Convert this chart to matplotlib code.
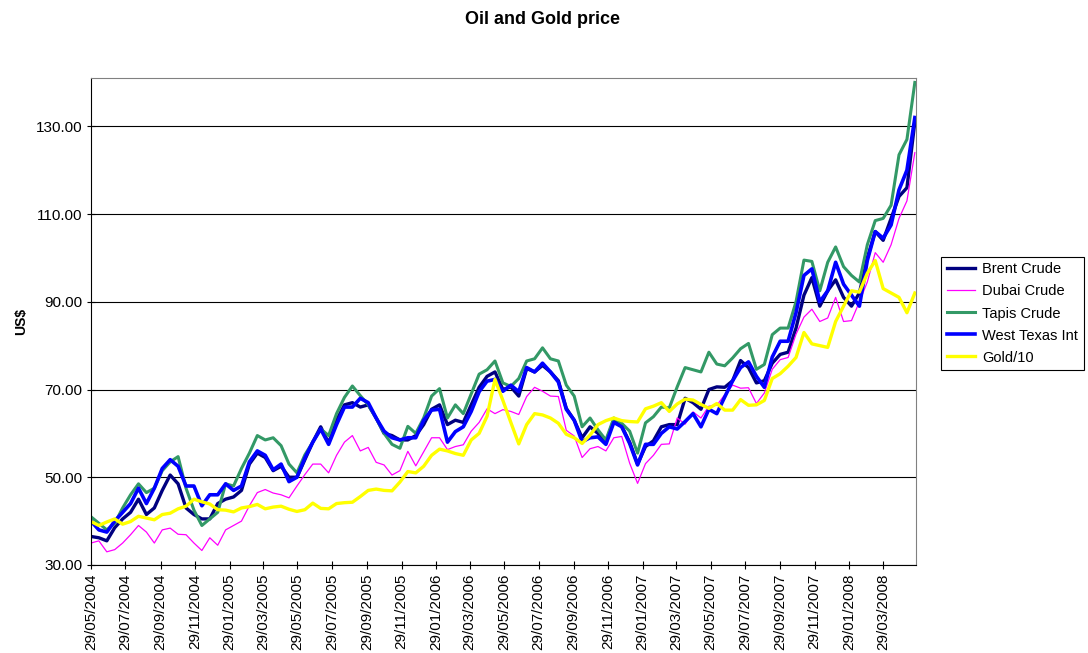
import pandas as pd
import matplotlib.pyplot as plt
import matplotlib.dates as mdates

# === DATA (fortnightly readings, US$) ===
dates = pd.date_range("2004-05-29", periods=105, freq="14D")

brent = [36.5, 36.2, 35.5, 38.5, 40.5, 42, 45, 41.5, 43, 47, 50.5, 48.5, 43, 41.5, 40.5,
         40.5, 44, 45, 45.5, 47, 53, 55.5, 54.5, 51.5, 52.5, 50, 50, 54, 58, 61.5,
         57.8, 63, 66.5, 67, 66, 66.5, 63.5, 60, 59.5, 58.5, 58.5, 59.5, 62, 65.5, 66.5,
         62, 63, 62.5, 66.5, 70.5, 73, 74, 70, 70.6, 68.5, 74.8, 74, 75.5, 74, 72,
         65.7, 63, 59, 61.5, 60, 58, 63, 61.6, 58, 53, 57, 58.3, 61.5, 62, 62,
         68, 67, 65.5, 70, 70.6, 70.5, 72, 76.6, 75, 71.5, 72, 76, 78, 78.5, 84,
         91.5, 95.5, 89, 92.5, 95, 91, 89, 92, 100, 106, 104, 109, 114, 116, 131]

dubai = [35, 35.5, 33, 33.5, 35, 36.9, 39, 37.5, 35, 38, 38.4, 37, 36.9, 35, 33.3,
         36.2, 34.5, 38, 39, 40, 43.5, 46.5, 47.2, 46.4, 46, 45.3, 48, 50.6, 53, 53,
         51, 55, 58, 59.5, 56, 56.8, 53.4, 52.8, 50.5, 51.5, 55.9, 52.6, 55.8, 59, 59,
         56.3, 57, 57.4, 60.5, 62.5, 65.6, 64.5, 65.4, 65, 64.3, 68.4, 70.5, 69.6, 68.5, 68.4,
         60.7, 59.4, 54.5, 56.5, 57, 56, 59, 59.3, 53.2, 48.6, 53.1, 55, 57.5, 57.6, 63.5,
         62.1, 64.9, 63.5, 66.2, 66.4, 68.8, 71, 70.3, 70.4, 66.8, 69.2, 74.6, 76.8, 77.3, 82.6,
         86.5, 88.3, 85.5, 86.3, 91, 85.5, 85.7, 90, 94.5, 101.2, 99, 103, 109, 113, 124]

tapis = [41, 39.5, 38, 39.5, 43, 46, 48.5, 46.5, 47.5, 51.5, 53.5, 54.7, 47.5, 42.5, 39,
         40.5, 42, 48.5, 48, 52, 55.5, 59.5, 58.5, 59, 57.2, 53, 51, 55.1, 58, 61,
         59.5, 64.5, 68.2, 70.8, 68.6, 66.5, 63.5, 60, 57.5, 56.6, 61.6, 60, 63.5, 68.5, 70.2,
         63.5, 66.5, 64.5, 69, 73.5, 74.5, 76.5, 71.5, 70.7, 72.5, 76.5, 77, 79.5, 77, 76.5,
         71, 68.5, 61.5, 63.5, 60.8, 58.5, 63.5, 62.3, 60.5, 55.5, 62.4, 63.8, 66, 65.8, 70.6,
         75, 74.5, 74, 78.5, 75.8, 75.4, 77.2, 79.3, 80.5, 74.6, 75.7, 82.5, 84, 84, 90,
         99.5, 99.2, 92.5, 99, 102.5, 98, 96, 94.5, 103, 108.5, 109, 112, 123.5, 127, 140]

wti = [40, 38, 37.5, 40, 42, 44, 47.5, 44, 47.5, 52, 54, 52.5, 48, 48, 43.5,
       46, 46, 48.5, 47, 48, 53.5, 56, 55, 51.7, 53, 49, 50, 54.4, 58, 61,
       57.5, 62, 66, 66, 68, 67, 63.5, 60.5, 59, 58.5, 59, 59, 63, 65.3, 65.5,
       58, 60.4, 61.5, 65, 69.5, 71.9, 72.3, 69.6, 71, 69.5, 75, 74, 76, 74, 71.7,
       65.5, 63, 58.1, 59, 59.2, 57.5, 62.5, 61.5, 57.7, 52.8, 57.5, 57.5, 60, 61.5, 61,
       62.7, 64.5, 61.5, 65.5, 64.5, 68.3, 72, 75, 76.3, 73, 70.5, 77.4, 81, 81, 87.5,
       96, 97.5, 90, 92.5, 99, 94, 91.5, 89, 99.4, 106, 104.5, 107.5, 115.5, 120, 132]

gold10 = [39.9, 39, 39.8, 40.5, 39.3, 39.9, 41.1, 40.7, 40.3, 41.5, 41.8, 42.8, 43.4, 45, 44.4,
          43.9, 42.6, 42.5, 42.1, 43, 43.3, 43.8, 42.8, 43.2, 43.4, 42.7, 42.2, 42.6, 44.1, 42.9,
          42.8, 44, 44.2, 44.3, 45.6, 47, 47.3, 47, 46.9, 48.9, 51.3, 51, 52.5, 55, 56.4,
          56, 55.4, 55, 58.5, 60, 63.9, 72.3, 67.5, 62.5, 57.6, 62, 64.5, 64.2, 63.5, 62.3,
          59.8, 59, 57.7, 59.6, 62, 62.9, 63.5, 62.9, 62.7, 62.6, 65.6, 66.2, 67, 65, 66.7,
          67.8, 67.6, 66.6, 65.7, 66.8, 65.3, 65.3, 67.7, 66.4, 66.5, 67.5, 72.5, 73.6, 75.3, 77.3,
          83, 80.4, 80, 79.6, 85.5, 89, 92.5, 92.2, 96.5, 99.4, 93, 92, 91, 87.5, 92]

tick_dates = pd.date_range("2004-05-29", periods=24, freq=pd.DateOffset(months=2))
y_ticks = [30, 50, 70, 90, 110, 130]

plt.rcParams["font.family"] = ["Liberation Sans", "DejaVu Sans"]

# === PLOT ===
fig = plt.figure(figsize=(10.88, 6.53), dpi=100)
ax = fig.add_axes([0.0836, 0.1348, 0.7583, 0.7457])

ax.plot(dates, brent, color="#000080", lw=2.4, label="Brent Crude")
ax.plot(dates, dubai, color="#FF00FF", lw=0.9, label="Dubai Crude")
ax.plot(dates, tapis, color="#339966", lw=2.2, label="Tapis Crude")
ax.plot(dates, wti, color="#0000FF", lw=2.6, label="West Texas Int")
ax.plot(dates, gold10, color="#FFFF00", lw=2.4, label="Gold/10")

ax.set_ylim(30, 141)
ax.set_xlim(dates[0], dates[0] + pd.Timedelta(days=1458))
ax.set_yticks(y_ticks)
ax.set_yticklabels([f"{v:.2f}" for v in y_ticks], fontsize=11)
ax.set_xticks(tick_dates)
ax.xaxis.set_major_formatter(mdates.DateFormatter("%d/%m/%Y"))
plt.setp(ax.get_xticklabels(), rotation=90, fontsize=11)
ax.tick_params(axis="both", direction="inout", length=6, width=0.8, color="black", pad=3)
ax.yaxis.grid(True, color="black", lw=0.8)
ax.set_axisbelow(True)

for side in ["top", "right"]:
    ax.spines[side].set_color("#808080")
    ax.spines[side].set_linewidth(0.8)
for side in ["left", "bottom"]:
    ax.spines[side].set_color("black")
    ax.spines[side].set_linewidth(0.8)

ax.set_ylabel("US$", fontsize=10, fontweight="bold", labelpad=6)
fig.suptitle("Oil and Gold price", x=0.499, y=0.983, fontsize=13, fontweight="bold")

leg = fig.legend(loc="upper left", bbox_to_anchor=(0.865, 0.607), fontsize=10.5,
                 frameon=True, fancybox=False, edgecolor="black", framealpha=1,
                 handlelength=1.9, labelspacing=0.55, borderpad=0.4, handletextpad=0.5,
                 borderaxespad=0)
leg.get_frame().set_linewidth(0.8)

fig.savefig("out.png", dpi=100)
